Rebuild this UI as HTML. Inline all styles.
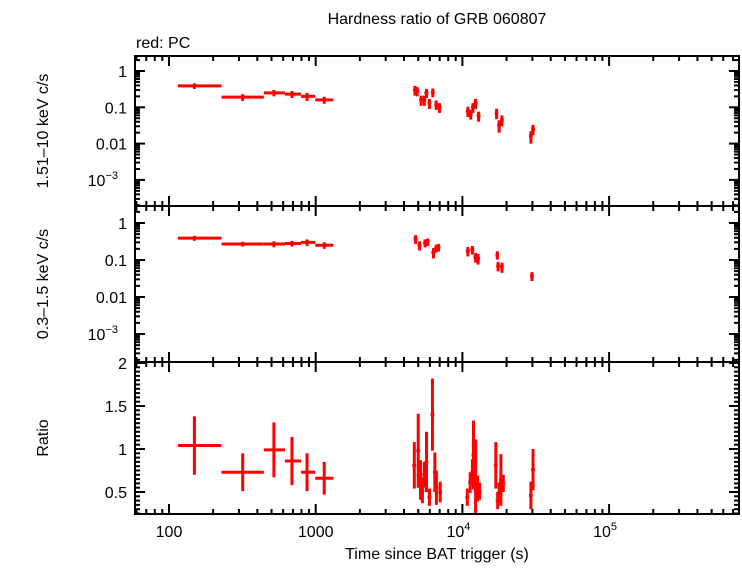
<!DOCTYPE html>
<html><head><meta charset="utf-8"><style>
body{margin:0;background:#fff;}
svg text{font-family:"Liberation Sans",sans-serif;fill:#000;}
</style></head><body>
<svg id="c" width="742" height="566" xmlns="http://www.w3.org/2000/svg"></svg>
<script>
// ---- data ----
const hardT = [149,318,519,689,873,1143,4750,4910,5230,5500,5690,5960,6290,6630,6980,10900,11400,11800,12300,12900,17100,17800,18600,29300,30300];
const hardTlo = [115,228,443,617,795,993,4600,4750,5070,5330,5510,5780,6100,6430,6770,10550,11050,11450,11900,12500,16600,17250,18050,28400,29400];
const hardThi = [228,443,617,795,993,1318,4900,5070,5390,5670,5870,6140,6480,6830,7190,11250,11750,12150,12700,13300,17600,18350,19150,30200,31200];
const hardRate = [0.39,0.19,0.25,0.23,0.20,0.16,0.30,0.28,0.16,0.16,0.25,0.13,0.26,0.12,0.10,0.079,0.066,0.10,0.13,0.058,0.069,0.032,0.045,0.016,0.025];
const hardErr = [0.07,0.04,0.05,0.05,0.05,0.035,0.09,0.08,0.05,0.05,0.07,0.04,0.07,0.035,0.03,0.025,0.02,0.03,0.04,0.018,0.022,0.012,0.015,0.006,0.008];

const softT = [149,318,519,689,873,1143,4800,5100,5570,5800,6350,6630,6870,10900,11700,12300,12800,17300,17500,18600,29800];
const softTlo = [115,228,443,617,795,993,4650,4950,5400,5620,6150,6430,6660,10550,11350,11900,12400,16800,17000,18050,28900];
const softThi = [228,443,617,795,993,1318,4950,5250,5740,5980,6550,6830,7080,11250,12050,12700,13200,17800,18000,19150,30700];
const softRate = [0.39,0.27,0.27,0.28,0.30,0.25,0.37,0.25,0.29,0.31,0.16,0.21,0.22,0.175,0.19,0.12,0.11,0.137,0.069,0.065,0.037];
const softErr = [0.06,0.04,0.05,0.05,0.06,0.05,0.1,0.07,0.07,0.07,0.05,0.05,0.05,0.05,0.05,0.035,0.035,0.035,0.02,0.02,0.01];

const ratioT = [149,318,519,689,873,1143,4700,5000,5180,5340,5500,5690,5960,6250,6490,6650,7060,10800,11300,11700,11900,12300,12700,13100,16900,17400,17800,18300,19000,29300,30300];
const ratioTlo = [115,228,443,617,795,993,4560,4850,5020,5180,5330,5520,5780,6060,6300,6450,6850,10480,10960,11350,11540,11930,12320,12700,16400,16880,17270,17750,18430,28420,29390];
const ratioThi = [228,443,617,795,993,1318,4840,5150,5340,5500,5670,5860,6140,6440,6680,6850,7270,11120,11640,12050,12260,12670,13080,13490,17400,17920,18330,18850,19570,30180,31210];
const ratioVal = [1.04,0.73,0.99,0.86,0.73,0.66,0.81,0.98,0.64,0.52,0.70,0.85,0.44,1.40,0.73,0.55,0.50,0.44,0.61,0.73,0.93,0.61,0.54,0.51,0.81,0.40,0.49,0.64,0.60,0.46,0.76];
const ratioErr = [0.34,0.22,0.32,0.28,0.22,0.19,0.27,0.43,0.23,0.15,0.15,0.35,0.10,0.42,0.23,0.20,0.12,0.10,0.12,0.15,0.40,0.50,0.15,0.10,0.27,0.10,0.12,0.30,0.10,0.16,0.24];

const xTickVals = [100,1000,10000,100000];
const xTickLabels = ["100","1000","10","10"];
const rateTickVals = [1,0.1,0.01,0.001];
const rateTickLabels = ["1","0.1","0.01","10"];
const ratioTickVals = [2,1.5,1,0.5];
const ratioTickLabels = ["2","1.5","1","0.5"];

// ---- layout ----
const NS="http://www.w3.org/2000/svg";
const svg=document.getElementById('c');
const L=135,R=739;
const P=[{top:56,bot:206},{top:206,bot:362},{top:362,bot:514}];
const X=t=>169+(Math.log10(t)-2)*146.7;
const Y0=v=>71-Math.log10(v)*36.3;
const Y1=v=>223-Math.log10(v)*37;
const Y2=v=>363+(2-v)*86;
function el(tag,attrs,parent){const e=document.createElementNS(NS,tag);for(const k in attrs)e.setAttribute(k,attrs[k]);(parent||svg).appendChild(e);return e;}
function line(x1,y1,x2,y2,c,w,p){return el('line',{x1,y1,x2,y2,stroke:c,'stroke-width':w},p);}
function text(x,y,s,anchor,size,p){const t=el('text',{x,y,'text-anchor':anchor||'middle','font-size':size||16},p);t.textContent=s;return t;}

const defs=el('defs',{});
P.forEach((p,i)=>{const cp=el('clipPath',{id:'cp'+i},defs);el('rect',{x:L,y:p.top,width:R-L,height:p.bot-p.top},cp);});

// titles
let t=text(437,24,"Hardness ratio of GRB 060807");


t=text(136,48,"red: PC","start");



// series
function series(T,Tlo,Thi,V,E,Y,name,ci){const gg=el('g',{'clip-path':'url(#cp'+ci+')'});
  
  
  T.forEach((tv,i)=>{const x=X(tv),y=Y(V[i]);
    line(X(Tlo[i]),y,X(Thi[i]),y,'#f00',3,gg);
    line(x,Y(V[i]+E[i]),x,Y(Math.max(V[i]-E[i],1e-9)),'#f00',3,gg);});}
series(hardT,hardTlo,hardThi,hardRate,hardErr,Y0,'hard-rate-series',0);
series(softT,softTlo,softThi,softRate,softErr,Y1,'soft-rate-series',1);
series(ratioT,ratioTlo,ratioThi,ratioVal,ratioErr,Y2,'ratio-series',2);

// frames and ticks
const g=el('g',{});


P.forEach((p,i)=>{
  const r=el('rect',{x:L,y:p.top,width:R-L,height:p.bot-p.top,fill:'none',stroke:'#000','stroke-width':2},g);
  
  
  for(let d=1;d<=5;d++){for(let m=1;m<10;m++){const v=m*Math.pow(10,d);const x=X(v);if(x<L||x>R)continue;const len=m==1?10:5;
    line(x,p.top,x,p.top+len,'#000',2,g);line(x,p.bot,x,p.bot-len,'#000',2,g);}}
});
[[Y0,0],[Y1,1]].forEach(([Y,i])=>{const p=P[i];
  for(let d=-4;d<=0;d++){for(let m=1;m<10;m++){const v=m*Math.pow(10,d);const y=Y(v);if(y<p.top||y>p.bot)continue;const len=m==1?10:5;
    line(L,y,L+len,y,'#000',2,g);line(R,y,R-len,y,'#000',2,g);}}
  rateTickVals.forEach((v,k)=>{const y=Y(v);const tt=text(127,y+6,rateTickLabels[k],'end',16,g);
    if(v===0.001){tt.setAttribute('x',118);const s=el('tspan',{'font-size':11,dy:-7},tt);s.textContent='−3';}
    
    });
});
for(let v=0.25;v<=2.001;v+=0.05){const y=Y2(v);if(y>P[2].bot)continue;const maj=Math.abs(v*2-Math.round(v*2))<1e-6;const len=maj?10:5;
  line(L,y,L+len,y,'#000',2,g);line(R,y,R-len,y,'#000',2,g);}
ratioTickVals.forEach((v,k)=>{const tt=text(127,Y2(v)+6,ratioTickLabels[k],'end',16,g);
  
  });
xTickVals.forEach((v,k)=>{const x=X(v);const tt=text(x,537,xTickLabels[k],'middle',16,g);
  if(v>=10000){tt.setAttribute('x',x-4);const s=el('tspan',{'font-size':11,dy:-7},tt);s.textContent=v==10000?'4':'5';}
  
  });

// axis titles
t=text(437,559,"Time since BAT trigger (s)");


function vtitle(s,cy,name){const tt=text(0,0,s,'middle',16);tt.setAttribute('transform','translate(48,'+cy+') rotate(-90)');
  
  }
vtitle("1.51–10 keV c/s",131,'top-y-axis-title');
vtitle("0.3–1.5 keV c/s",284,'middle-y-axis-title');
vtitle("Ratio",438,'ratio-y-axis-title');
</script>
</body></html>
